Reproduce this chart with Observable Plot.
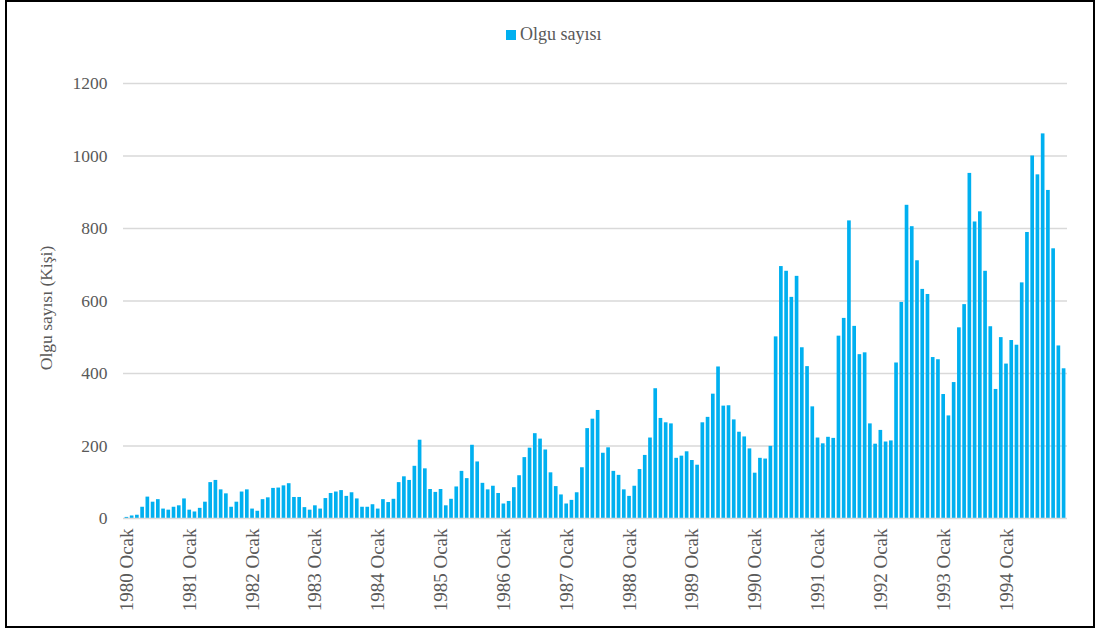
<!DOCTYPE html>
<html>
<head>
<meta charset="utf-8">
<script src="https://cdn.jsdelivr.net/npm/d3@7"></script>
<script src="https://cdn.jsdelivr.net/npm/@observablehq/plot@0.6"></script>
<style>
  body { margin: 0; background: #fff; }
  #page { position: relative; width: 1097px; height: 632px; overflow: hidden; background: #fff;
          font-family: "Liberation Serif", "Times New Roman", serif; }
  #frame { position: absolute; left: 5px; top: 0; width: 1090px; height: 628px;
           border: 2px solid #000; box-sizing: border-box; pointer-events: none; }
  #legend { position: absolute; top: 24px; left: 506px; display: flex; align-items: center;
            font-size: 18px; color: #595959; white-space: nowrap; }
  #legend .sw { width: 10px; height: 10px; background: #00b0f0; margin-right: 4px; }
  #chart { position: absolute; left: 0; top: 55px; }
</style>
</head>
<body>
<div id="page">
  <div id="legend"><span class="sw"></span><span>Olgu sayısı</span></div>
  <div id="chart"></div>
  <div id="frame"></div>
</div>
<script>
// Monthly case counts (Olgu sayısı), January through December of each year
const years = [1980, 1981, 1982, 1983, 1984, 1985, 1986, 1987, 1988, 1989, 1990, 1991, 1992, 1993, 1994];
const y1980 = [3, 7, 9, 31, 59, 45, 52, 26, 23, 31, 35, 54];
const y1981 = [23, 18, 28, 45, 99, 105, 79, 68, 31, 45, 73, 79];
const y1982 = [26, 20, 52, 57, 83, 84, 90, 96, 58, 58, 30, 23];
const y1983 = [35, 26, 55, 69, 73, 77, 61, 71, 54, 31, 31, 38];
const y1984 = [26, 52, 44, 53, 99, 115, 105, 144, 216, 137, 80, 72];
const y1985 = [80, 35, 53, 87, 130, 110, 202, 156, 97, 79, 89, 69];
const y1986 = [40, 47, 85, 118, 168, 194, 234, 219, 189, 126, 88, 65];
const y1987 = [40, 50, 71, 140, 248, 274, 298, 180, 195, 130, 119, 79];
const y1988 = [61, 89, 135, 174, 222, 358, 276, 264, 261, 166, 172, 184];
const y1989 = [160, 147, 264, 279, 343, 418, 310, 311, 272, 238, 225, 192];
const y1990 = [125, 166, 164, 199, 501, 695, 682, 610, 668, 471, 419, 308];
const y1991 = [222, 206, 224, 221, 503, 552, 821, 530, 452, 457, 261, 205];
const y1992 = [243, 211, 214, 429, 596, 864, 805, 711, 632, 618, 444, 438];
const y1993 = [342, 283, 375, 526, 590, 952, 818, 846, 682, 529, 356, 499];
const y1994 = [426, 491, 478, 650, 789, 1000, 948, 1061, 905, 744, 476, 413];
const monthLabel = "Ocak";
const yTicks = [0, 200, 400, 600, 800, 1000, 1200];

const series = [y1980, y1981, y1982, y1983, y1984, y1985, y1986, y1987,
                y1988, y1989, y1990, y1991, y1992, y1993, y1994];

const rows = years.flatMap((yr, i) =>
  series[i].map((v, m) => ({ idx: i * 12 + m, year: yr, month: m, value: v })));
const janTicks = rows.filter(d => d.month === 0).map(d => d.idx);

const textColor = "#595959";
const serifStack = "'Liberation Serif', 'Times New Roman', serif";

const chart = Plot.plot({
  width: 1097,
  height: 577,
  marginTop: 28,
  marginBottom: 114,
  marginLeft: 123,
  marginRight: 30,
  style: { fontFamily: serifStack, fontSize: "17px", color: textColor, background: "transparent", overflow: "visible" },
  x: { type: "band", domain: rows.map(d => d.idx), padding: 0.3, axis: null },
  y: { domain: [0, 1200], axis: null },
  marks: [
    Plot.gridY(yTicks.filter(t => t > 0), { stroke: "#d9d9d9", strokeOpacity: 1, strokeWidth: 1.3 }),
    Plot.barY(rows, { x: "idx", y: "value", fill: "#00b0f0" }),
    Plot.ruleY([0], { stroke: "#d9d9d9", strokeWidth: 1.5 }),
    Plot.axisY(yTicks, {
      tickSize: 0, tickPadding: 16, label: null, fill: textColor,
      fontFamily: serifStack, fontSize: 17.5, tickFormat: d => String(d)
    }),
    Plot.axisX(janTicks, {
      tickSize: 0, tickPadding: 10, tickRotate: -90, label: null, fill: textColor,
      fontFamily: serifStack, fontSize: 19,
      tickFormat: i => `${years[Math.floor(i / 12)]} ${monthLabel}`
    }),
    Plot.text(["Olgu sayısı (Kişi)"], {
      frameAnchor: "left", textAnchor: "middle", dx: -77, dy: 7, rotate: -90,
      fill: textColor, fontSize: 17.5, fontFamily: serifStack
    })
  ]
});
document.getElementById("chart").append(chart);
</script>
</body>
</html>
